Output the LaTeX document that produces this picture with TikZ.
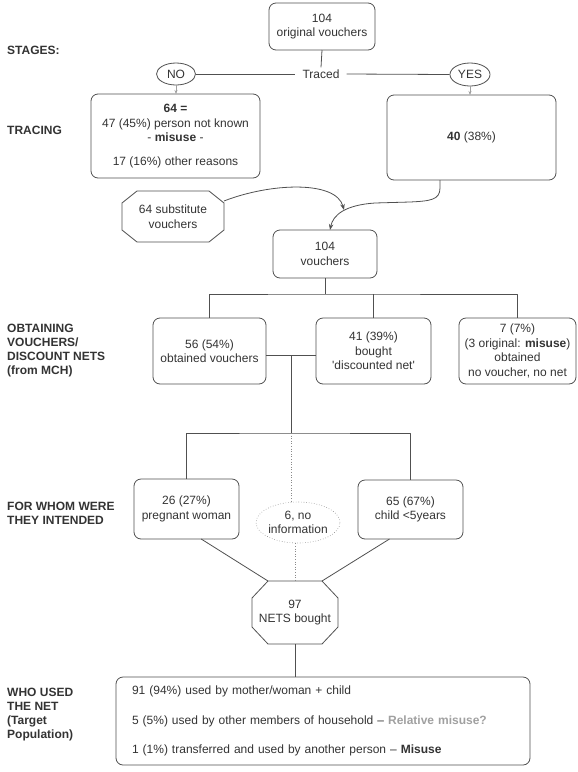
\documentclass[tikz,border=0pt]{standalone}
\usepackage{fontspec}
\setmainfont{Liberation Sans}
\usetikzlibrary{shapes.geometric,arrows.meta,calc}
\definecolor{txt}{HTML}{333333}
\definecolor{ln}{HTML}{505050}
\definecolor{lg}{HTML}{A0A0A0}
\definecolor{dg}{HTML}{8A8A8A}
\newcommand\octpath[3]{\draw[conn] ($(#1.north west)+(#2,0)$) -- ($(#1.north east)+(-#2,0)$) -- ($(#1.north east)+(0,#3)$) -- ($(#1.south east)+(0,-#3)$) -- ($(#1.south east)+(-#2,0)$) -- ($(#1.south west)+(#2,0)$) -- ($(#1.south west)+(0,-#3)$) -- ($(#1.north west)+(0,#3)$) -- cycle;}
\begin{document}
\begin{tikzpicture}[x=1pt,y=-1pt, font=\fontsize{12}{14.5}\selectfont, text=txt,
 box/.style={draw=ln, line width=0.8pt, rounded corners=7pt, align=center, inner sep=2pt, outer sep=0pt},
 oct/.style={align=center, inner sep=2pt, outer sep=0pt},
 lbl/.style={anchor=west, align=left, font=\fontsize{12}{14.3}\selectfont\bfseries, inner sep=0pt},
 conn/.style={draw=ln, line width=0.8pt, line join=round},
 dotl/.style={draw=dg, line width=0.6pt, dotted},
 garr/.style={draw=lg, line width=0.5pt, -{Stealth[length=4pt,width=3pt]}},
 barr/.style={draw=ln, line width=0.8pt, -{Stealth[length=6pt,width=4.5pt]}},
 yn/.style={ellipse, draw=ln, line width=0.8pt, inner sep=0pt}
]
\useasboundingbox (0,0) rectangle (578,772);

% left stage labels
\node[lbl] (l1) at (7,50) {STAGES:};
\node[lbl] (l2) at (7,130) {TRACING};
\node[lbl] (l3) at (7,350.5) {OBTAINING\\VOUCHERS/\\DISCOUNT NETS\\(from MCH)};
\node[lbl] (l4) at (7,513) {FOR WHOM WERE\\THEY INTENDED};
\node[lbl] (l5) at (7,714.5) {WHO USED\\THE NET\\(Target\\Population)};

% nodes
\node[box, minimum width=106pt, minimum height=47pt] (top) at (322,26.5) {104\\original vouchers};
\node[inner xsep=7pt, inner ysep=2pt] (traced) at (321,74) {Traced};
\node[yn, minimum width=39pt, minimum height=22pt] (no) at (176,74) {NO};
\node[yn, minimum width=40pt, minimum height=23pt] (yes) at (470,74.5) {YES};
\node[box, minimum width=169pt, minimum height=84pt] (nobox) at (175.5,136) {\textbf{64 =}\\47 (45\%) person not known\\- \textbf{misuse} -\\[9pt]17 (16\%) other reasons};
\node[box, minimum width=169pt, minimum height=85pt] (yesbox) at (471.5,137.5) {\textbf{40} (38\%)};
\node[oct, minimum width=102pt, minimum height=51pt] (s64) at (173,216.5) {64 substitute\\vouchers};
\node[box, minimum width=104pt, minimum height=48pt] (vb) at (325,254) {104\\vouchers};
\node[box, minimum width=113pt, minimum height=66pt] (b56) at (209.5,351) {56 (54\%)\\obtained vouchers};
\node[box, minimum width=115pt, minimum height=66pt] (b41) at (373.5,351) {41 (39\%)\\bought\\\textquotesingle discounted net\textquotesingle};
\node[box, minimum width=117pt, minimum height=66pt] (b7) at (517.5,351) {7 (7\%)\\(3 original: \textbf{misuse})\\obtained\\no voucher, no net};
\node[box, minimum width=105pt, minimum height=60pt] (b26) at (186.5,509) {26 (27\%)\\pregnant woman};
\node[box, minimum width=105pt, minimum height=59pt] (b65) at (410.5,509.5) {65 (67\%)\\child <5years};
\node[ellipse, draw=dg, dotted, line width=0.6pt, minimum width=82pt, minimum height=41pt, inner sep=0pt, align=center] (ell) at (298,522.5) {6, no\\information};
\node[oct, minimum width=86pt, minimum height=63pt] (o97) at (295,612.5) {97\\NETS bought};
\node[box, minimum width=414pt, minimum height=88pt, text width=382pt, align=left, inner xsep=16pt] (bot) at (323,721) {91 (94\%) used by mother/woman + child\\[15pt]5 (5\%) used by other members of household – \textcolor{lg}{\textbf{Relative misuse?}}\\[15pt]1 (1\%) transferred and used by another person – \textbf{Misuse}};

% octagons
\octpath{s64}{15}{12}
\octpath{o97}{16}{17}

% connectors
\draw[conn] (top.south) -- (traced.north);
\draw[conn] (no.east) -- (traced.west);
\draw[conn] (traced.east) -- (yes.west);
\draw[garr] (no.south) -- (no.south |- nobox.north);
\draw[garr] (yes.south) -- (yes.south |- yesbox.north);

\coordinate (c64) at ($(s64.north east)+(0,10)$);
\coordinate (cy) at ($(yesbox.south west)+(53,0)$);
\coordinate (mrg) at (344,210);
\coordinate (vin) at ($(vb.north west)+(57,0)$);
\draw[barr] (c64) .. controls (270,183) and (336,180) .. (mrg);
\draw[barr] (cy) -- (440,188) .. controls (440,200) and (430,201) .. (410,202) -- (375,203) .. controls (345,205) and (333,215) .. (vin);

\coordinate (bus1) at (325,294);
\draw[conn] (vb.south) -- (bus1);
\draw[conn] (b56.north) |- (bus1) -| (b7.north);
\draw[conn] (b41.north) -- (b41.north |- bus1);
\coordinate (mid) at (291,355);
\draw[conn] (b56.east |- mid) -- (b41.west |- mid);
\coordinate (bus2) at (291,433);
\draw[conn] (mid) -- (bus2);
\draw[conn] (b26.north) |- (bus2) -| (b65.north);
\draw[dotl] (bus2) -- (bus2 |- ell.north);
\draw[dotl] (ell.south -| o97.north) -- (o97.north);
\draw[conn] ($(b26.south)!0.28!(b26.south east)$) -- ($(o97.north west)+(16,0)$);
\draw[conn] ($(b65.south)!0.4!(b65.south west)$) -- ($(o97.north east)+(-16,0)$);
\draw[conn] (o97.south) -- (o97.south |- bot.north);
\end{tikzpicture}
\end{document}
